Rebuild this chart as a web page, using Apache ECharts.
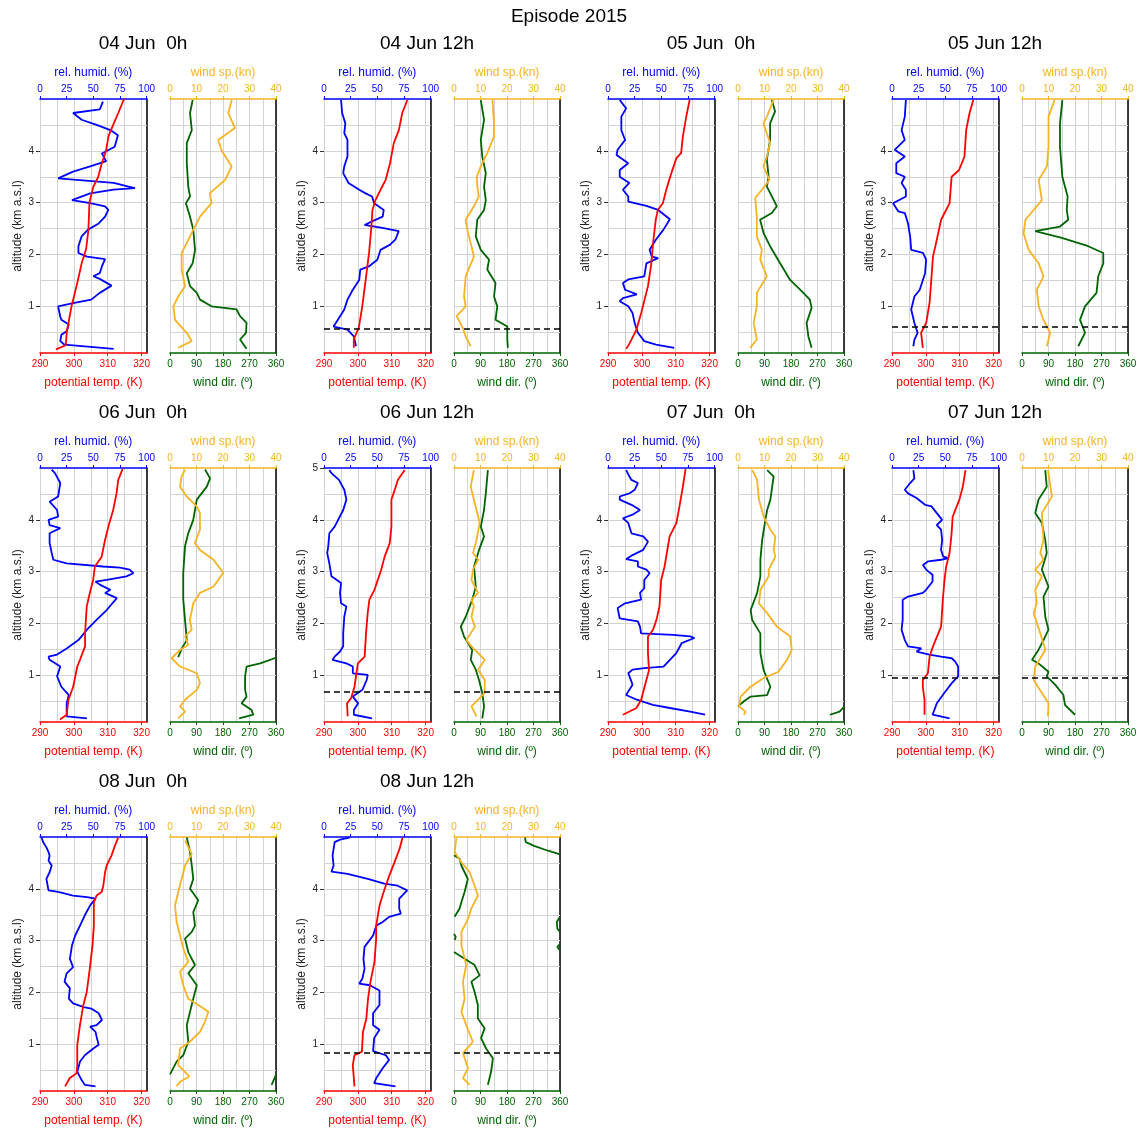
<!DOCTYPE html>
<html>
<head>
<meta charset="utf-8">
<title>Episode 2015</title>
<script src="https://cdn.jsdelivr.net/npm/echarts@6/dist/echarts.min.js"></script>
<style>
html, body { margin: 0; padding: 0; background: #fff; }
#chart { width: 1140px; height: 1131px; }
</style>
</head>
<body>
<div id="chart"></div>
<script>
// profiles: [value, altitude km]; null = break where wind direction wraps 360 -> 0
var temp0400 = [[294.7,0.17],[297.6,0.25],[297.9,0.5],[299.3,1.0],[301.0,1.45],[302.3,1.83],[303.6,2.1],[304.3,2.48],[304.6,3.0],[305.7,3.3],[307.2,3.5],[308.2,3.75],[309.5,4.0],[310.2,4.28],[311.6,4.5],[313.1,4.73],[314.8,5.0]];
var rh0400 = [[69,0.18],[23,0.26],[19,0.33],[20,0.45],[25,0.52],[27,0.65],[20,0.74],[19,0.8],[17,1.0],[31,1.06],[48,1.13],[56,1.26],[67,1.4],[56,1.53],[50,1.58],[56,1.64],[58,1.77],[61,1.91],[44,1.96],[36,2.03],[36,2.16],[39,2.35],[45,2.48],[55,2.6],[61,2.73],[64,2.86],[61,2.93],[47,2.99],[30,3.05],[47,3.18],[69,3.25],[89,3.28],[83,3.31],[69,3.38],[17,3.47],[31,3.6],[47,3.7],[62,3.8],[58,3.95],[70,4.08],[73,4.3],[66,4.4],[53,4.5],[39,4.6],[31,4.73],[56,4.8],[59,4.95]];
var wdir0400 = [[260,0.18],[238,0.36],[258,0.49],[260,0.68],[238,0.81],[226,0.94],[141,1.0],[102,1.13],[91,1.26],[68,1.39],[57,1.64],[77,1.83],[85,2.09],[79,2.48],[68,2.73],[54,2.99],[68,3.12],[62,3.31],[57,3.76],[57,4.15],[74,4.4],[68,4.73],[77,4.98]];
var wspd0400 = [[3.1,0.2],[8.2,0.33],[6.3,0.49],[1.9,0.74],[1.3,1.0],[3.1,1.19],[5.7,1.39],[4.4,1.71],[4.4,2.03],[6.3,2.22],[8.8,2.48],[11.3,2.73],[15.7,2.99],[15,3.18],[20.8,3.44],[23.3,3.7],[19.5,4.0],[18.2,4.21],[24.5,4.44],[22,4.73],[23.3,4.98]];

var temp0412 = [[298.8,0.2],[298.8,0.36],[300.3,0.6],[301.3,1.0],[302.3,1.51],[303.3,2.03],[304.0,2.54],[304.3,2.86],[305.2,3.05],[306.7,3.25],[308.2,3.44],[309.5,3.76],[310.6,4.15],[312.1,4.4],[313.1,4.73],[314.6,4.98]];
var rh0412 = [[30,0.23],[28,0.42],[22,0.55],[9,0.61],[13,0.74],[19,0.94],[22,1.13],[27,1.32],[33,1.51],[34,1.71],[42,1.77],[50,1.9],[53,2.09],[62,2.19],[67,2.29],[70,2.45],[56,2.51],[38,2.57],[45,2.64],[55,2.73],[56,2.86],[47,2.99],[45,3.12],[39,3.18],[33,3.25],[23,3.38],[18,3.57],[19,3.7],[22,3.89],[22,4.21],[19,4.34],[20,4.53],[17,4.73],[16,4.98]];
var wdir0412 = [[183,0.2],[181,0.36],[181,0.61],[141,0.74],[147,1.0],[136,1.19],[141,1.45],[113,1.71],[119,1.9],[91,2.09],[74,2.35],[79,2.67],[102,2.86],[108,3.05],[102,3.31],[108,3.57],[96,3.89],[91,4.21],[102,4.6],[91,4.98]];
var wspd0412 = [[6.3,0.23],[4.4,0.42],[3.1,0.61],[1.0,0.81],[4.4,1.0],[3.8,1.19],[4.4,1.58],[7.5,1.96],[6.3,2.22],[5.0,2.48],[4.4,2.67],[7.5,2.93],[9.4,3.12],[8.8,3.31],[8.6,3.5],[10.1,3.7],[12.6,3.96],[15.1,4.28],[15.1,4.53],[14.5,4.98]];

var temp0500 = [[295.4,0.18],[296.4,0.29],[298.4,0.55],[299.8,0.87],[301.8,1.39],[302.8,1.83],[303.3,2.22],[304.1,2.67],[304.7,2.86],[306.2,2.99],[307.2,3.25],[308.7,3.57],[310.2,3.86],[311.6,3.96],[312.1,4.28],[313.1,4.66],[314.1,4.98]];
var rh0500 = [[62,0.2],[45,0.26],[34,0.33],[28,0.49],[25,0.68],[23,0.87],[19,1.0],[11,1.1],[14,1.16],[27,1.23],[16,1.32],[14,1.45],[19,1.52],[34,1.58],[36,1.83],[47,1.93],[41,1.96],[39,2.09],[45,2.29],[52,2.48],[58,2.68],[47,2.86],[36,2.94],[19,3.02],[19,3.12],[14,3.25],[20,3.38],[11,3.5],[11,3.63],[19,3.76],[8,3.92],[9,4.02],[16,4.21],[12.5,4.4],[12.5,4.66],[17,4.82],[11,4.98]];
var wdir0500 = [[250,0.2],[239,0.42],[233,0.68],[250,0.97],[244,1.13],[222,1.26],[177,1.51],[143,1.83],[109,2.16],[87,2.41],[75,2.67],[115,2.8],[132,2.93],[115,3.12],[98,3.31],[104,3.5],[98,3.83],[109,4.21],[109,4.53],[126,4.76],[115,4.98]];
var wspd0500 = [[4.6,0.2],[7.1,0.36],[5.9,0.68],[7.1,1.0],[7.1,1.26],[10.9,1.58],[8.4,1.9],[9.0,2.09],[7.1,2.35],[7.1,2.73],[6.5,3.09],[9.0,3.25],[11.9,3.44],[9.6,3.7],[10.9,3.89],[12.1,4.15],[9.6,4.53],[10.9,4.66],[13.4,4.98]];

var temp0512 = [[299.1,0.2],[298.6,0.49],[300.1,0.68],[301.1,1.07],[302.1,1.96],[303.0,2.22],[304.5,2.67],[307.0,2.99],[307.6,3.5],[309.8,3.63],[311.4,3.89],[311.9,4.4],[312.9,4.73],[314.0,4.98]];
var rh0512 = [[20,0.23],[21,0.36],[24,0.49],[21,0.68],[18,0.94],[21,1.19],[26,1.32],[31,1.64],[32,1.9],[29,2.03],[18,2.09],[17,2.35],[15,2.6],[12,2.8],[6,2.83],[1,2.99],[13,3.12],[13,3.25],[9,3.38],[12,3.5],[4,3.57],[4,3.76],[12,3.89],[2.5,4.02],[12,4.21],[9,4.4],[12,4.66],[13,4.98]];
var wdir0512 = [[191,0.23],[214,0.49],[197,0.74],[214,1.0],[253,1.26],[259,1.58],[276,1.83],[276,2.03],[225,2.16],[135,2.32],[45,2.45],[129,2.54],[157,2.67],[152,2.86],[155,3.12],[137,3.5],[129,4.08],[129,4.53],[137,4.98]];
var wspd0512 = [[9.4,0.23],[10.6,0.49],[8.1,0.74],[6.3,1.0],[5.6,1.32],[8.1,1.58],[6.3,1.83],[2.5,2.09],[0.6,2.41],[1.3,2.67],[7.5,3.05],[6.3,3.44],[9.4,3.7],[10,4.08],[10,4.66],[12.3,4.98]];

var temp0600 = [[295.9,0.15],[297.9,0.24],[298.4,0.53],[299.8,0.78],[301.0,1.17],[301.8,1.3],[303.3,1.56],[303.3,1.81],[303.8,2.33],[304.7,2.59],[305.7,2.84],[306.2,3.1],[308.2,3.29],[309.2,3.61],[310.2,3.87],[311.6,4.19],[312.6,4.51],[313.1,4.77],[314.4,4.98]];
var rh0600 = [[44,0.17],[25,0.21],[25,0.46],[27,0.62],[20,0.78],[16,0.98],[19,1.17],[9,1.3],[8,1.36],[16,1.4],[25,1.52],[36,1.68],[44,1.88],[53,2.07],[62.5,2.26],[72,2.49],[61,2.59],[66,2.65],[56,2.75],[52,2.81],[62.5,2.84],[81,2.91],[87.5,2.97],[84,3.04],[75,3.08],[59,3.1],[25,3.16],[12.5,3.23],[11,3.36],[9,3.55],[9,3.74],[19,3.84],[9,3.9],[8,4.0],[17,4.06],[16,4.19],[9,4.35],[17,4.45],[19,4.71],[14,4.9],[11,4.97]];
var wdir0600 = [[235,0.17],[283,0.24],[277,0.33],[243,0.46],[260,0.59],[255,0.72],[255,0.98],[260,1.17],[306,1.23],[360,1.34],null,[28,1.35],[40,1.52],[57,1.68],[51,2.07],[45,2.46],[45,2.97],[51,3.49],[62,3.74],[79,4.0],[91,4.39],[125,4.64],[136,4.8],[119,4.97]];
var wspd0600 = [[3.1,0.17],[5.7,0.3],[3.8,0.4],[5.7,0.53],[10.1,0.72],[11.3,0.85],[10.1,1.04],[3.8,1.17],[0.6,1.33],[3.8,1.49],[6.9,1.59],[5.7,1.75],[8.2,1.88],[7.5,2.07],[8.8,2.39],[11.3,2.59],[16.4,2.71],[20.1,2.98],[16.4,3.23],[11.3,3.42],[9.4,3.55],[11.3,3.81],[11.3,4.13],[10.1,4.26],[6.3,4.45],[3.8,4.64],[4.4,4.84],[5.7,4.97]];

var temp0612 = [[297.0,0.21],[296.8,0.46],[298.0,0.56],[299.0,0.78],[300.0,1.23],[302.0,1.36],[302.4,1.81],[302.9,2.2],[303.4,2.46],[304.9,2.65],[306.9,3.04],[307.9,3.29],[309.4,3.55],[309.9,3.87],[309.9,4.39],[310.9,4.58],[311.8,4.77],[313.8,4.96]];
var rh0612 = [[45,0.17],[28,0.24],[28,0.33],[32,0.46],[27,0.59],[36,0.72],[40,0.91],[41,1.01],[32,1.03],[27,1.04],[27,1.17],[21,1.23],[8,1.3],[10,1.36],[15,1.46],[18,1.56],[18,1.81],[19,2.13],[21,2.33],[16,2.39],[15,2.59],[16,2.78],[7,2.91],[5,3.16],[3,3.36],[4,3.49],[5,3.74],[10,3.87],[18,4.19],[21,4.39],[19,4.58],[14,4.77],[7,4.9],[5,4.96]];
var wdir0612 = [[96,0.17],[102,0.4],[96,0.66],[85,0.91],[74,1.11],[57,1.3],[62,1.49],[34,1.75],[23,1.94],[40,2.13],[62,2.46],[74,2.71],[68,3.1],[85,3.42],[102,3.68],[91,3.87],[102,4.19],[108,4.51],[115,4.96]];
var wspd0612 = [[8.5,0.21],[6.6,0.4],[9.1,0.53],[11.6,0.66],[11.6,0.91],[9.1,1.11],[11.6,1.3],[6.6,1.56],[4.7,1.68],[7.9,1.94],[6.6,2.13],[7.5,2.33],[6.6,2.46],[9.1,2.59],[6.6,2.84],[7.2,3.04],[9.1,3.23],[7.2,3.36],[8.5,3.61],[9.7,3.94],[8.5,4.19],[7.2,4.45],[6.3,4.64],[7.5,4.96]];

var temp0700 = [[294.4,0.24],[298.4,0.37],[299.8,0.53],[300.8,0.78],[302.1,1.1],[301.8,1.43],[301.8,1.75],[303.3,1.88],[304.3,2.07],[305.2,2.33],[305.7,2.84],[306.7,3.1],[307.7,3.49],[308.2,3.68],[310.2,3.94],[311.1,4.26],[312.1,4.64],[312.9,4.98]];
var rh0700 = [[91,0.24],[77,0.3],[58,0.37],[42,0.43],[27,0.53],[17,0.62],[19,0.69],[23,0.82],[22,0.88],[19,1.04],[23,1.11],[34,1.14],[52,1.17],[58,1.3],[64,1.43],[69,1.62],[81,1.72],[77,1.75],[61,1.78],[31,1.81],[30,1.94],[28,2.04],[11,2.1],[9,2.3],[16,2.39],[31,2.46],[30,2.59],[34,2.68],[34,2.84],[39,2.97],[36,3.04],[28,3.1],[28,3.2],[17,3.24],[23,3.32],[33,3.42],[37.5,3.58],[33,3.68],[22,3.74],[19,3.94],[14,4.03],[23,4.1],[30,4.19],[22,4.29],[11,4.39],[11,4.45],[20,4.51],[25,4.58],[28,4.71],[22,4.77],[20,4.84],[17,4.96]];
var wdir0700 = [[312,0.24],[345,0.3],[360,0.39],null,[0,0.4],[3,0.43],[20,0.5],[43,0.59],[99,0.62],[110,0.78],[87,1.1],[76,1.43],[76,1.81],[48,2.07],[43,2.26],[65,2.59],[76,2.91],[76,3.23],[82,3.61],[93,4.0],[99,4.19],[110,4.39],[121,4.84],[99,4.96]];
var wspd0700 = [[2.2,0.24],[2.9,0.3],[0.4,0.4],[1.0,0.59],[4.7,0.78],[9.7,0.95],[15.3,1.07],[18.5,1.3],[20.3,1.49],[19.7,1.75],[14.7,1.94],[11.0,2.2],[7.9,2.39],[8.5,2.65],[11.6,2.91],[11.6,3.04],[14.1,3.29],[13.5,3.42],[14.1,3.68],[12.2,3.81],[9.7,4.06],[7.9,4.39],[7.2,4.77],[5.4,4.96]];

var temp0712 = [[299.6,0.24],[299.6,0.53],[299.1,0.78],[299.1,0.91],[300.6,1.04],[301.1,1.36],[302.1,1.56],[304.5,1.94],[305.0,2.46],[305.5,2.84],[306.0,3.1],[307.0,3.36],[307.6,3.74],[307.9,4.06],[309.9,4.39],[310.9,4.64],[311.7,4.96]];
var rh0712 = [[54,0.17],[38,0.24],[42,0.46],[49,0.66],[56,0.85],[62,0.98],[62,1.17],[59,1.27],[56,1.33],[46,1.36],[35,1.4],[23,1.46],[27.5,1.52],[15,1.56],[12,1.68],[9,1.88],[10,2.07],[10,2.46],[15,2.52],[29,2.59],[32,2.65],[38,2.81],[38,2.94],[32,3.04],[29,3.13],[34,3.2],[46,3.23],[53,3.26],[48,3.29],[46,3.42],[47,3.61],[46,3.81],[42,3.9],[47,4.0],[42,4.13],[37,4.26],[31,4.29],[23,4.42],[15,4.51],[12,4.58],[17,4.71],[21,4.8],[20,4.96]];
var wdir0712 = [[180,0.24],[146,0.43],[140.6,0.62],[112.5,0.82],[84,0.98],[90,1.07],[56,1.23],[34,1.3],[56,1.49],[73,1.68],[90,1.88],[79,2.13],[73,2.52],[90,2.71],[67.5,3.04],[84,3.36],[79,3.61],[67.5,3.94],[45,4.13],[56,4.39],[84,4.64],[79,4.96]];
var wspd0712 = [[9.8,0.21],[10,0.46],[7.5,0.66],[4.4,0.91],[5,1.17],[8.8,1.49],[6.9,1.81],[4.4,2.2],[5.6,2.39],[5,2.65],[7.5,2.91],[5,3.04],[8.1,3.23],[6.9,3.36],[8.1,3.61],[7.5,4.13],[11.3,4.45],[9.8,4.96]];

var temp0800 = [[297.4,0.19],[298.8,0.35],[300.8,0.44],[301.0,0.6],[301.0,0.99],[301.8,1.37],[302.8,1.76],[303.8,2.01],[304.7,2.46],[305.5,2.91],[305.9,3.29],[305.9,3.74],[306.7,3.87],[308.2,3.94],[308.7,4.06],[309.2,4.32],[309.7,4.45],[311.1,4.64],[312.1,4.83],[313.1,4.99]];
var rh0800 = [[52,0.19],[42,0.22],[39,0.31],[35,0.47],[37.5,0.67],[42,0.79],[50,0.92],[55,0.99],[53,1.15],[52,1.24],[47,1.34],[53,1.37],[58,1.47],[55,1.6],[48,1.69],[41,1.72],[31,1.79],[27,1.88],[28,2.08],[23,2.21],[25,2.37],[31,2.49],[28,2.65],[30,2.91],[33,3.1],[37.5,3.29],[42,3.49],[47,3.68],[52,3.81],[44,3.84],[31,3.87],[17,3.94],[8,3.97],[6,4.19],[9,4.32],[11,4.45],[8,4.54],[9,4.64],[8,4.71],[6,4.8],[3,4.9],[1.5,4.99]];
var wdir0800 = [[345,0.22],[360,0.41],null,[0,0.42],[11,0.54],[23,0.67],[45,0.79],[62,1.05],[57,1.37],[68,1.63],[79,1.88],[91,2.14],[62,2.37],[85,2.53],[62,2.78],[51,3.04],[74,3.17],[85,3.29],[79,3.55],[96,3.78],[68,4.0],[79,4.19],[74,4.45],[68,4.71],[57,4.99]];
var wspd0800 = [[2.5,0.19],[3.8,0.28],[7.3,0.38],[3.1,0.6],[3.8,0.92],[7.5,1.05],[11.3,1.24],[13.2,1.44],[14.5,1.63],[10.7,1.76],[6.9,1.88],[5.0,2.14],[3.8,2.4],[6.9,2.59],[5.0,2.85],[3.8,3.1],[2.5,3.36],[1.9,3.68],[3.1,3.94],[4.4,4.19],[5.7,4.45],[8.2,4.67],[5.7,4.93]];

var temp0812 = [[299.0,0.19],[298.5,0.6],[299.0,0.79],[301.2,0.86],[301.5,1.24],[302.5,1.5],[303.0,1.88],[303.7,2.2],[304.9,2.59],[305.4,3.04],[305.4,3.29],[306.4,3.68],[307.6,3.94],[309.3,4.26],[310.8,4.51],[312.3,4.77],[313.2,4.99]];
var rh0812 = [[67,0.19],[47,0.25],[49,0.35],[55,0.54],[61,0.7],[58,0.79],[46,0.87],[47,1.12],[52,1.28],[46,1.37],[46,1.6],[52,1.76],[52,2.04],[43,2.14],[33,2.17],[36,2.27],[38,2.46],[37,2.65],[38,2.88],[46,3.1],[49,3.29],[55,3.36],[61,3.46],[72,3.52],[70.5,3.62],[70.5,3.81],[78,3.97],[69,4.06],[56.5,4.1],[41,4.19],[22,4.29],[7,4.33],[9,4.45],[8,4.64],[10,4.9],[15,4.95],[24,4.99]];
var wdir0812 = [[115,0.22],[126,0.47],[132,0.73],[109,0.92],[92,1.12],[104,1.31],[81,1.5],[81,1.76],[70,2.01],[59,2.21],[87,2.33],[70,2.53],[36,2.65],[0,2.78],null,[360,2.81],[351,2.88],[360,2.94],null,[2,3.01],[6,3.07],[0,3.13],null,[360,3.17],[351,3.23],[349,3.36],[360,3.46],null,[2,3.46],[19,3.62],[25,3.74],[36,3.94],[47,4.19],[25,4.45],[19,4.58],[0,4.65],null,[357,4.67],[317,4.74],[272,4.83],[244,4.9],[241,4.99]];
var wspd0812 = [[5.9,0.22],[3.4,0.35],[5.3,0.54],[3.4,0.83],[7.1,1.05],[4.6,1.37],[2.8,1.63],[4.0,1.88],[3.4,2.21],[4.6,2.53],[2.8,2.91],[2.8,3.17],[5.3,3.42],[6.5,3.62],[9.0,3.87],[7.8,4.06],[5.9,4.32],[2.8,4.51],[0.25,4.71],[0.9,4.99]];

var TITLES = ['04 Jun  0h', '04 Jun 12h', '05 Jun  0h', '05 Jun 12h', '06 Jun  0h', '06 Jun 12h', '07 Jun  0h', '07 Jun 12h', '08 Jun  0h', '08 Jun 12h'];
var BL_HEIGHT = [null, 0.57, null, 0.6, null, 0.69, null, 0.95, null, 0.83];
var ALT_TICKS = [1, 2, 3, 4];
var ALT_TICKS_5 = [1, 2, 3, 4, 5];
var ALT_GRID = [0.5, 1, 1.5, 2, 2.5, 3, 3.5, 4, 4.5];
var TEMP_TICKS = [290, 300, 310, 320];

var PANELS = [
    { temp: temp0400, rh: rh0400, wdir: wdir0400, wspd: wspd0400, ticks: ALT_TICKS },
    { temp: temp0412, rh: rh0412, wdir: wdir0412, wspd: wspd0412, ticks: ALT_TICKS },
    { temp: temp0500, rh: rh0500, wdir: wdir0500, wspd: wspd0500, ticks: ALT_TICKS },
    { temp: temp0512, rh: rh0512, wdir: wdir0512, wspd: wspd0512, ticks: ALT_TICKS },
    { temp: temp0600, rh: rh0600, wdir: wdir0600, wspd: wspd0600, ticks: ALT_TICKS },
    { temp: temp0612, rh: rh0612, wdir: wdir0612, wspd: wspd0612, ticks: ALT_TICKS_5 },
    { temp: temp0700, rh: rh0700, wdir: wdir0700, wspd: wspd0700, ticks: ALT_TICKS },
    { temp: temp0712, rh: rh0712, wdir: wdir0712, wspd: wspd0712, ticks: ALT_TICKS },
    { temp: temp0800, rh: rh0800, wdir: wdir0800, wspd: wspd0800, ticks: ALT_TICKS },
    { temp: temp0812, rh: rh0812, wdir: wdir0812, wspd: wspd0812, ticks: ALT_TICKS }
];

var FONT = '"Liberation Sans", Arial, sans-serif';
var RED = '#ff0000', BLUE = '#0000ff', GREEN = '#006400', ORANGE = '#f5b325';
var GRIDCOL = '#d3d3d3';

var myChart = echarts.init(document.getElementById('chart'), null, { renderer: 'canvas' });

var grids = [], xAxes = [], yAxes = [], series = [], graphics = [];

function gapped(arr) {
    return arr.map(function (p) { return p ? p : ['-', '-']; });
}

// colored value axis (bottom or top) with ticks + labels + name
function valueAxis(g, pos, min, max, interval, color, name, labels) {
    var ax = {
        gridIndex: g, type: 'value', position: pos, min: min, max: max, interval: interval,
        axisLine: { show: true, onZero: false, lineStyle: { color: color, width: 1.5 } },
        axisTick: { show: true, length: 3, lineStyle: { color: color, width: 1 } },
        axisLabel: { color: color, fontSize: 10, fontFamily: FONT, margin: pos === 'top' ? 5 : 6, showMinLabel: true, showMaxLabel: true },
        splitLine: { show: false },
        name: name, nameLocation: 'middle', nameGap: pos === 'top' ? 20 : 24,
        nameTextStyle: { color: color, fontSize: 12, fontFamily: FONT }
    };
    if (labels) {
        ax.axisLabel.customValues = labels;
        ax.axisTick.customValues = labels;
    }
    xAxes.push(ax);
    return xAxes.length - 1;
}

// invisible axis that only draws the vertical grid
function gridAxis(g, min, max, interval) {
    xAxes.push({
        gridIndex: g, type: 'value', position: 'bottom', min: min, max: max, interval: interval,
        axisLine: { show: false, onZero: false }, axisTick: { show: false }, axisLabel: { show: false },
        splitLine: { show: true, lineStyle: { color: GRIDCOL, width: 1 } }
    });
}

function altAxes(g, ticks) {
    yAxes.push({
        gridIndex: g, type: 'value', position: 'left', min: 0.1, max: 5,
        axisLine: { show: false, onZero: false },
        axisTick: ticks ? { show: true, customValues: ticks, length: 4, lineStyle: { color: '#333' } } : { show: false },
        axisLabel: ticks ? { show: true, customValues: ticks, color: '#222', fontSize: 10, fontFamily: FONT, margin: 6 } : { show: false },
        splitLine: { show: false },
        name: ticks ? 'altitude (km a.s.l)' : '', nameLocation: 'middle', nameGap: 16, nameRotate: 90,
        nameTextStyle: { color: '#222', fontSize: 12, fontFamily: FONT }
    });
    var left = yAxes.length - 1;
    yAxes.push({
        gridIndex: g, type: 'value', position: 'right', min: 0.1, max: 5,
        axisLine: { show: true, onZero: false, lineStyle: { color: '#000', width: 1.5 } },
        axisTick: { show: false }, axisLabel: { show: false }, splitLine: { show: false }
    });
    return left;
}

function profile(data, xi, yi, color) {
    series.push({
        type: 'line', data: gapped(data), xAxisIndex: xi, yAxisIndex: yi,
        symbol: 'none', showSymbol: false, connectNulls: false, smooth: false, clip: true,
        lineStyle: { color: color, width: 1.8 }, z: 3, silent: true, animation: false
    });
}

function hLines(xi, yi, values, style, z) {
    series.push({
        type: 'line', data: [], xAxisIndex: xi, yAxisIndex: yi, symbol: 'none', silent: true, animation: false,
        z: z,
        markLine: {
            silent: true, symbol: ['none', 'none'], animation: false, z: z,
            label: { show: false }, lineStyle: style,
            data: values.map(function (v) { return { yAxis: v }; })
        }
    });
}

PANELS.forEach(function (p, i) {
    var row = Math.floor(i / 4), col = i % 4;
    var x0 = 40 + col * 284;
    var y0 = 99 + row * 369;
    var h = 254;

    // left: potential temperature + relative humidity
    grids.push({ left: x0, top: y0, width: 106.7, height: h });
    var gL = grids.length - 1;
    var xTemp = valueAxis(gL, 'bottom', 290, 321.5, 10, RED, 'potential temp. (K)', TEMP_TICKS);
    gridAxis(gL, 290, 321.5, 5);
    var xRh = valueAxis(gL, 'top', 0, 100, 25, BLUE, 'rel. humid. (%)');
    var yL = altAxes(gL, p.ticks);

    // right: wind direction + wind speed
    grids.push({ left: x0 + 130, top: y0, width: 106, height: h });
    var gR = grids.length - 1;
    var xDir = valueAxis(gR, 'bottom', 0, 360, 90, GREEN, 'wind dir. (\u00ba)');
    gridAxis(gR, 0, 360, 45);
    var xSpd = valueAxis(gR, 'top', 0, 40, 10, ORANGE, 'wind sp.(kn)');
    var yR = altAxes(gR, null);

    hLines(xTemp, yL, ALT_GRID, { color: GRIDCOL, width: 1, type: 'solid' }, 1);
    hLines(xDir, yR, ALT_GRID, { color: GRIDCOL, width: 1, type: 'solid' }, 1);

    profile(p.rh, xRh, yL, BLUE);
    profile(p.temp, xTemp, yL, RED);
    profile(p.wdir, xDir, yR, GREEN);
    profile(p.wspd, xSpd, yR, ORANGE);

    if (BL_HEIGHT[i] != null) {
        var dash = { color: '#000', width: 1.5, type: [6, 4] };
        hLines(xTemp, yL, [BL_HEIGHT[i]], dash, 6);
        hLines(xDir, yR, [BL_HEIGHT[i]], dash, 6);
    }

    graphics.push({
        type: 'text', x: x0 + 103, y: y0 - 55,
        style: { text: TITLES[i], fill: '#000', font: '19px ' + FONT, textAlign: 'center', textVerticalAlign: 'middle' }
    });
});

graphics.push({
    type: 'text', x: 569, y: 17,
    style: { text: 'Episode 2015', fill: '#000', font: '19px ' + FONT, textAlign: 'center', textVerticalAlign: 'middle' }
});

myChart.setOption({
    backgroundColor: '#ffffff',
    animation: false,
    textStyle: { fontFamily: FONT },
    grid: grids,
    xAxis: xAxes,
    yAxis: yAxes,
    series: series,
    graphic: graphics
});
</script>
</body>
</html>
